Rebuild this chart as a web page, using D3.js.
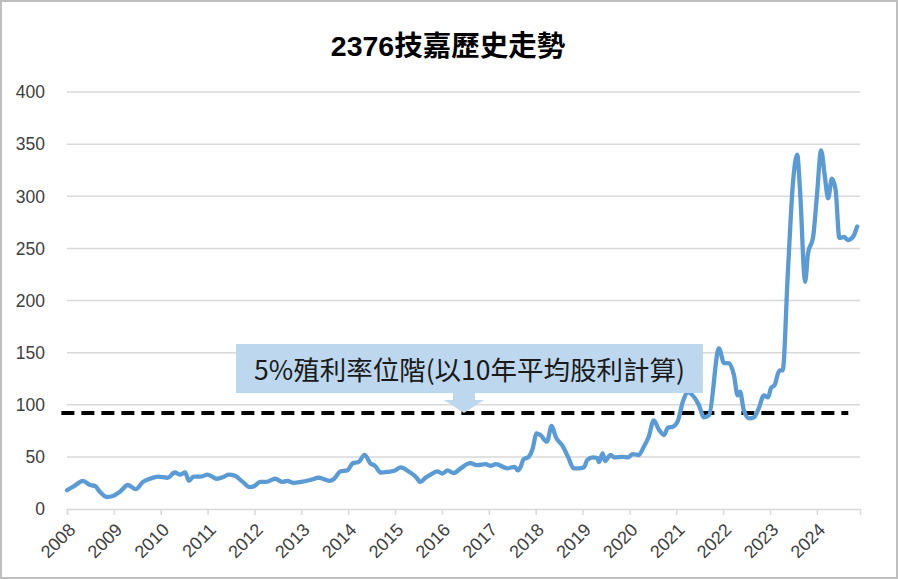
<!DOCTYPE html>
<html>
<head>
<meta charset="utf-8">
<script src="https://cdn.jsdelivr.net/npm/d3@7"></script>
<style>
html,body{margin:0;padding:0;background:#fff;}
svg{display:block;}
</style>
</head>
<body>
<svg id="chart" width="898" height="579"></svg>
<script>
// ---- data (decimal year, price) ----
const titleText = "2376技嘉歷史走勢";
const calloutText = "5%殖利率位階(以10年平均股利計算)";
const years = [
 2008.00,2008.15,2008.34,2008.49,2008.60,2008.70,2008.85,2008.98,
 2009.13,2009.30,2009.47,2009.62,2009.77,2009.94,
 2010.15,2010.30,2010.42,2010.52,2010.60,2010.70,2010.85,
 2011.00,2011.10,2011.20,2011.35,2011.45,2011.58,2011.75,2011.90,
 2012.00,2012.12,2012.25,2012.44,2012.60,2012.70,2012.83,
 2013.00,2013.20,2013.37,2013.60,2013.70,2013.83,2013.98,
 2014.10,2014.22,2014.35,2014.47,2014.58,2014.69,2014.83,
 2015.00,2015.12,2015.29,2015.44,2015.54,2015.65,2015.76,2015.90,
 2016.01,2016.12,2016.25,2016.40,2016.60,2016.76,2016.93,
 2017.04,2017.15,2017.40,2017.55,2017.62,2017.68,2017.74,2017.85,2017.93,
 2018.02,2018.10,2018.24,2018.34,2018.43,2018.58,2018.70,2018.81,2018.92,
 2019.03,2019.10,2019.22,2019.32,2019.35,2019.43,2019.48,2019.60,2019.67,2019.86,2019.97,
 2020.07,2020.20,2020.31,2020.41,2020.52,2020.63,2020.74,2020.82,2020.93,
 2021.03,2021.14,2021.25,2021.35,2021.48,2021.59,2021.70,2021.91,
 2022.02,2022.12,2022.23,2022.31,2022.36,2022.44,2022.55,2022.66,2022.76,2022.87,2022.96,
 2023.02,2023.10,2023.17,2023.21,2023.27,2023.38,2023.49,2023.58,2023.64,2023.75,2023.81,2023.92,
 2024.00,2024.09,2024.17,2024.24,2024.32,2024.40,2024.48,2024.58,2024.66,2024.77,2024.86
];
const prices = [
 18,22,27,23,22,16.6,11.5,12.5,
 16.6,23,19,26,29,31,
 30,35,33,35,27,31,31,
 33,31,29,31,33,32,26,21,
 22,26,26,29,26,27,25,
 26,28,30,27,29,36,37,
 44,45,52,44,41,35,35.5,
 37,40,36,31,26,30,33,36,
 34,37,34.5,39,44,42,43,
 41.5,43,39,40.5,37,40.5,47.6,50,57,
 72.6,71,64.6,79.6,69,60,49,39,39,
 40,47,49.6,48.6,45,53.4,46,52,49.6,50,49.6,
 52.7,51.8,60,69,85,76,71,78,79,
 84,103,112,109,100,88,90,154,
 140,140,128.5,109,112.5,95,87,88,96.6,109,107,
 116,119,130,133,133,226,313,340,306,218,245,261,
 300,344,319,298,317,306,260,261,258,261,271
];
const yieldLevel = 92;
const yieldSpan = [2007.88, 2024.67];
const xTickYears = d3.range(2008, 2025);
const yTicks = [0,50,100,150,200,250,300,350,400];
const calloutYear = 2016.47;

// ---- drawing ----
const svg = d3.select("#chart");
const W = 898, H = 579;
const x = d3.scaleLinear().domain([2008, 2024.92]).range([67, 860]);
const y = d3.scaleLinear().domain([0, 400]).range([509, 92]);

svg.append("rect").attr("x",1).attr("y",1).attr("width",W-2).attr("height",H-2)
  .attr("fill","#fff").attr("stroke","#bfbfbf").attr("stroke-width",2);

// title
svg.append("text").attr("x",448).attr("y",56).attr("text-anchor","middle")
  .attr("font-family","'Liberation Sans','Noto Sans CJK TC',sans-serif")
  .attr("font-weight","bold").attr("font-size",28.5).attr("fill","#000")
  .text(titleText);

// gridlines
const g = svg.append("g");
g.selectAll("line.grid").data(yTicks.filter(d=>d>0)).enter().append("line")
  .attr("x1",x.range()[0]).attr("x2",x.range()[1])
  .attr("y1",d=>y(d)).attr("y2",d=>y(d))
  .attr("stroke","#d9d9d9").attr("stroke-width",1.5);

// y axis labels
g.selectAll("text.ylab").data(yTicks).enter().append("text")
  .attr("x",45).attr("y",d=>y(d)).attr("dy","0.36em").attr("text-anchor","end")
  .attr("font-family","'Liberation Sans',Arial,sans-serif").attr("font-size",17.5)
  .attr("fill","#404040").text(d=>d);

// x axis
const xAxis = d3.axisBottom(x).tickValues(xTickYears).tickSize(6).tickFormat(d3.format("d"));
const ax = svg.append("g").attr("transform",`translate(0,${y(0)})`).call(xAxis);
ax.select(".domain").attr("stroke","#d9d9d9").attr("stroke-width",1.5);
ax.selectAll(".tick line").attr("stroke","#d9d9d9").attr("stroke-width",1.5);
ax.selectAll(".tick text")
  .attr("font-family","'Liberation Sans',Arial,sans-serif").attr("font-size",18)
  .attr("fill","#404040")
  .attr("text-anchor","end").attr("dy",null).attr("y",null)
  .attr("transform","translate(9,22) rotate(-45)");

// yield line (dashed)
svg.append("line")
  .attr("x1",x(yieldSpan[0])).attr("x2",x(yieldSpan[1]))
  .attr("y1",y(yieldLevel)).attr("y2",y(yieldLevel))
  .attr("stroke","#000").attr("stroke-width",4).attr("stroke-dasharray","13,7");

// price line
const pts = years.map((d,i)=>[d,prices[i]]);
const line = d3.line().x(d=>x(d[0])).y(d=>y(d[1])).curve(d3.curveMonotoneX);
svg.append("path").datum(pts).attr("d",line)
  .attr("fill","none").attr("stroke","#5b9bd5").attr("stroke-width",4.3)
  .attr("stroke-linejoin","round").attr("stroke-linecap","round");

// callout
const bx0 = 236, bx1 = 703, by0 = 344, by1 = 393;
const ax0 = x(calloutYear), tipY = y(yieldLevel);
const shape = [
  [bx0,by0],[bx1,by0],[bx1,by1],[ax0+11,by1],[ax0+11,by1+7],[ax0+20,by1+7],
  [ax0,tipY],[ax0-20,by1+7],[ax0-11,by1+7],[ax0-11,by1],[bx0,by1]
];
svg.append("path").attr("d",d3.line()(shape)+"Z").attr("fill","#bdd7ee");
svg.append("text").attr("x",(bx0+bx1)/2).attr("y",380).attr("text-anchor","middle")
  .attr("font-family","'Noto Sans CJK TC','Noto Sans',sans-serif").attr("font-size",26.5)
  .attr("fill","#1a1a1a").text(calloutText);
</script>
</body>
</html>
